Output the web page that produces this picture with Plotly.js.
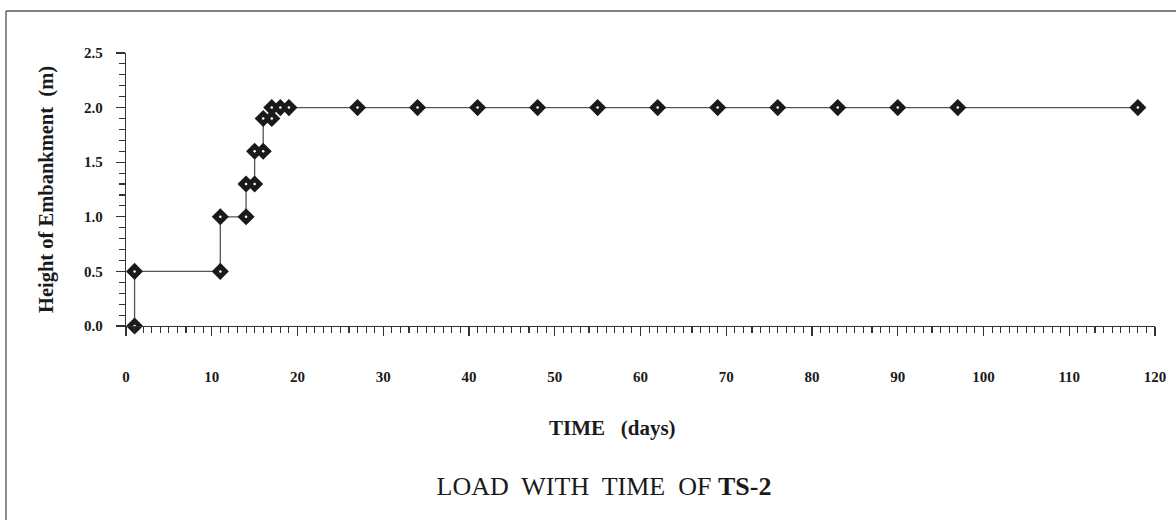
<!DOCTYPE html>
<html>
<head>
<meta charset="utf-8">
<script src="https://cdn.plot.ly/plotly-3.0.1.min.js"></script>
<style>
html,body{margin:0;padding:0;background:#fff;}
#chart{width:1176px;height:520px;}
</style>
</head>
<body>
<div id="chart"></div>
<script>
// Data
var timeDays = [1, 1, 11, 11, 14, 14, 15, 15, 16, 16, 17, 17, 18, 19, 27, 34, 41, 48, 55, 62, 69, 76, 83, 90, 97, 118];
var heightM  = [0, 0.5, 0.5, 1.0, 1.0, 1.3, 1.3, 1.6, 1.6, 1.9, 1.9, 2.0, 2.0, 2.0, 2.0, 2.0, 2.0, 2.0, 2.0, 2.0, 2.0, 2.0, 2.0, 2.0, 2.0, 2.0];
var xTickVals = [0, 10, 20, 30, 40, 50, 60, 70, 80, 90, 100, 110, 120];
var yTickVals = [0, 0.5, 1.0, 1.5, 2.0, 2.5];
var yTickText = ['0.0', '0.5', '1.0', '1.5', '2.0', '2.5'];

var serif = 'Liberation Serif, Times New Roman, serif';

var traces = [
  {
    x: timeDays, y: heightM, type: 'scatter', mode: 'lines+markers',
    line: {color: '#555555', width: 1.3},
    marker: {symbol: 'diamond', size: 11, color: '#1a1a1a', line: {color: '#1a1a1a', width: 2}},
    cliponaxis: false, hoverinfo: 'x+y', showlegend: false
  },
  {
    x: timeDays, y: heightM, type: 'scatter', mode: 'markers',
    marker: {symbol: 'circle', size: 2.5, color: '#ffffff', line: {width: 0}},
    cliponaxis: false, hoverinfo: 'skip', showlegend: false
  }
];

var layout = {
  width: 1176, height: 520,
  margin: {l: 126, r: 21, t: 53, b: 194},
  paper_bgcolor: '#ffffff', plot_bgcolor: '#ffffff',
  showlegend: false,
  title: {
    text: 'LOAD  WITH  TIME  OF <b>TS-2</b>',
    font: {family: serif, size: 26, color: '#1a1a1a'},
    x: 604 / 1176, xanchor: 'center',
    y: 1 - 486 / 520, yanchor: 'middle', yref: 'container'
  },
  xaxis: {
    range: [0, 120], autorange: false,
    showgrid: false, zeroline: false,
    showline: true, linecolor: '#333333', linewidth: 1.3,
    tickmode: 'array', tickvals: xTickVals,
    ticks: 'outside', ticklen: 9, tickwidth: 1.3, tickcolor: '#333333',
    ticklabelstandoff: 28,
    tickfont: {family: serif, size: 15, color: '#1a1a1a', weight: 'bold'},
    minor: {dtick: 1, ticks: 'outside', ticklen: 6, tickwidth: 1.1, tickcolor: '#333333', showgrid: false}
  },
  yaxis: {
    range: [0, 2.5], autorange: false,
    showgrid: false, zeroline: false,
    showline: true, linecolor: '#333333', linewidth: 1.3,
    tickmode: 'array', tickvals: yTickVals, ticktext: yTickText,
    ticks: 'outside', ticklen: 9, tickwidth: 1.3, tickcolor: '#333333',
    ticklabelstandoff: 10,
    tickfont: {family: serif, size: 15, color: '#1a1a1a', weight: 'bold'},
    minor: {dtick: 0.1, ticks: 'outside', ticklen: 6, tickwidth: 1.1, tickcolor: '#333333', showgrid: false},
    title: {
      text: 'Height of Embankment  (m)',
      font: {family: serif, size: 20.5, color: '#1a1a1a', weight: 'bold'},
      standoff: 24
    }
  },
  annotations: [
    {
      text: '<b>TIME   (days)</b>',
      xref: 'paper', yref: 'paper',
      x: (612 - 126) / 1029, y: (326 - 428) / 273,
      xanchor: 'center', yanchor: 'middle', showarrow: false,
      font: {family: serif, size: 21, color: '#1a1a1a'}
    }
  ],
  shapes: [
    {type: 'line', xref: 'paper', yref: 'paper',
     x0: (6 - 126) / 1029, x1: (1176 - 126) / 1029, y0: (326 - 11) / 273, y1: (326 - 11) / 273,
     line: {color: '#555555', width: 1.5}},
    {type: 'line', xref: 'paper', yref: 'paper',
     x0: (6 - 126) / 1029, x1: (6 - 126) / 1029, y0: (326 - 11) / 273, y1: (326 - 520) / 273,
     line: {color: '#666666', width: 1.5}}
  ]
};

Plotly.newPlot('chart', traces, layout, {displayModeBar: false, staticPlot: true});
</script>
</body>
</html>
